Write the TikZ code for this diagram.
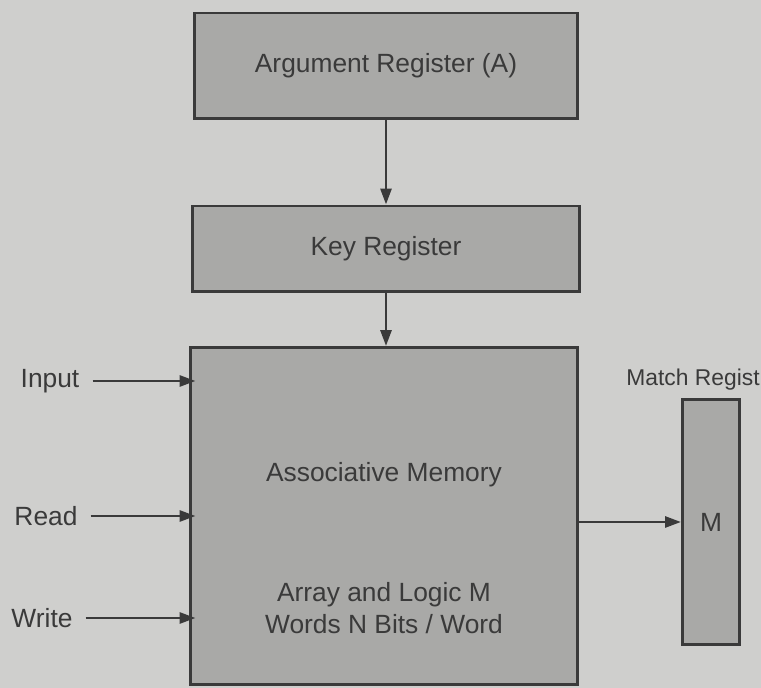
\documentclass[tikz,border=0pt]{standalone}
\usepackage{fontspec}
\setmainfont{Liberation Sans}
\usetikzlibrary{arrows.meta,positioning}
\definecolor{paper}{HTML}{CFCFCD}
\definecolor{boxgray}{HTML}{A9A9A7}
\definecolor{ink}{HTML}{3A3A3A}
\tikzset{
  regbox/.style={draw=ink, line width=1.7pt, fill=boxgray, text=ink, font=\fontsize{15}{18}\selectfont},
  sig/.style={draw=ink, line width=1.6pt, -{Triangle[length=3.2mm,width=2.2mm]}},
  lbl/.style={text=ink, font=\fontsize{15}{18}\selectfont}
}
\begin{document}
\begin{tikzpicture}[x=0.02cm,y=-0.02cm]
    % page
    \fill[paper] (0,0) rectangle (761,688);
    \useasboundingbox (0,0) rectangle (761,688);

    % registers
    \node (arg) [regbox, minimum width=7.66cm, minimum height=2.12cm] at (386,66) {Argument Register (A)};
    \node (key) [regbox, minimum width=7.74cm, minimum height=1.72cm] at (386,249) {Key Register};

    % memory array
    \node (mem) [regbox, minimum width=7.76cm, minimum height=6.74cm] at (384,516) {};
    \node (assoc) [lbl] at (384,475) {Associative Memory};
    \node (arr) [lbl, align=center] at (384,608) {Array and Logic M\\Words N Bits / Word};

    % match register
    \node (mreg) [regbox, minimum width=1.14cm, minimum height=4.9cm] at (711,522) {M};
    \node (mlbl) [lbl, font=\fontsize{13}{16}\selectfont, anchor=east, inner xsep=0pt] at (760,380) {Match Regist};

    % inputs
    \node (input) [lbl] at (50,381) {Input};
    \node (read) [lbl] at (46,516) {Read};
    \node (write) [lbl] at (42,618) {Write};

    \draw[sig] (arg) -- (key);
    \draw[sig] (key) -- (key |- mem.north);
    \draw[sig] ([xshift=4pt]input.east) -- ([xshift=4pt]input.east -| mem.west);
    \draw[sig] ([xshift=4pt]read.east) -- ([xshift=4pt]read.east -| mem.west);
    \draw[sig] ([xshift=4pt]write.east) -- ([xshift=4pt]write.east -| mem.west);
    \draw[sig] (mem.east |- mreg) -- (mreg.west);
\end{tikzpicture}
\end{document}
